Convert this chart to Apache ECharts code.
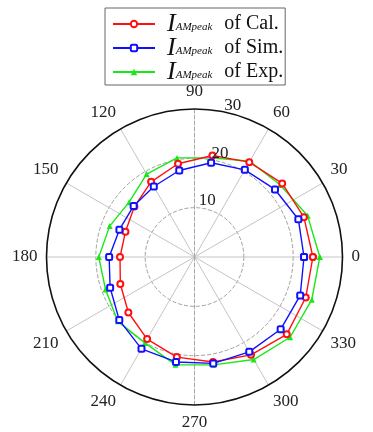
<!DOCTYPE html>
<html><head><meta charset="utf-8">
<script src="https://cdn.jsdelivr.net/npm/echarts@6/dist/echarts.min.js"></script>
<style>html,body{margin:0;padding:0;background:#fff}#c{width:373px;height:432px}</style>
</head><body><div id="c"></div>
<script>
// ---- data ----
const angles = [0,20,40,60,80,100,120,140,160,180,200,220,240,260,280,300,320,340];
const calValues = [24.0,23.6,23.2,22.2,20.9,19.2,17.6,15.9,14.9,15.1,16.0,17.5,19.2,20.6,21.6,22.9,24.4,24.0];
const simValues = [22.2,22.4,21.3,20.4,19.4,17.8,16.5,16.1,16.2,17.3,18.2,19.9,21.5,21.6,21.9,22.2,22.8,22.8];
const expValues = [25.4,24.4,22.7,22.4,20.4,20.4,19.4,17.3,18.3,19.4,19.2,20.3,20.1,22.2,22.2,24.0,25.3,25.3];
const angleTicks = [0,30,60,90,120,150,180,210,240,270,300,330];
const radiusTicks = [10,20,30];
const seriesNames = ['of Cal.','of Sim.','of Exp.'];

const FONT = 'Liberation Serif';
const center = [194.5, 257];
const R = 148;

function closed(vals){
  const d = angles.map((a,i)=>[vals[i], a]);
  d.push([vals[0], 360]);
  return d;
}
// spoke colours: hide the 90/270 spokes (drawn dashed separately)
const spokeColors = angleTicks.map(a => (a===90||a===270) ? 'rgba(0,0,0,0)' : '#c4c4c4');
const circleColors = [0].concat(radiusTicks).map(v => (v===0||v===30) ? 'rgba(0,0,0,0)' : '#a0a0a0');

const hiddenAngle = (idx, start) => ({
  polarIndex: idx, type:'value', min:0, max:360, interval:30, startAngle:start, clockwise:false,
  axisLine:{show:false}, axisTick:{show:false}, axisLabel:{show:false}, splitLine:{show:false}
});

const option = {
  animation:false,
  backgroundColor:'#fff',
  polar:[
    {center:center, radius:R},
    {center:center, radius:R},
    {center:center, radius:R},
    {center:center, radius:R}
  ],
  angleAxis:[
    {
      polarIndex:0, type:'value', min:0, max:360, interval:30, startAngle:0, clockwise:false,
      axisLine:{lineStyle:{color:'#111', width:1.6}},
      axisTick:{show:false},
      axisLabel:{fontFamily:FONT, fontSize:17, color:'#222', margin:9,
        formatter:v => (v===360 ? '' : String(v))},
      splitLine:{show:true, lineStyle:{color:spokeColors, width:1}}
    },
    hiddenAngle(1, 90),
    hiddenAngle(2, 270),
    hiddenAngle(3, 75)
  ],
  radiusAxis:[
    {
      polarIndex:0, type:'value', min:0, max:30, interval:10,
      axisLine:{show:false}, axisTick:{show:false}, axisLabel:{show:false},
      splitLine:{show:true, lineStyle:{color:circleColors, type:'dashed', width:1}}
    },
    {
      polarIndex:1, type:'value', min:0, max:30, interval:10,
      axisLine:{show:true, lineStyle:{color:'#a8a8a8', type:'dashed', width:1}},
      axisTick:{show:false}, axisLabel:{show:false}, splitLine:{show:false}
    },
    {
      polarIndex:2, type:'value', min:0, max:30, interval:10,
      axisLine:{show:true, lineStyle:{color:'#a8a8a8', type:'dashed', width:1}},
      axisTick:{show:false}, axisLabel:{show:false}, splitLine:{show:false}
    },
    {
      polarIndex:3, type:'value', min:0, max:30, interval:10, z:10,
      axisLine:{show:false}, axisTick:{show:false}, splitLine:{show:false},
      axisLabel:{show:true, fontFamily:FONT, fontSize:17, color:'#222', margin:0,
        align:'center', verticalAlign:'bottom',
        formatter:v => (radiusTicks.indexOf(v)>=0 ? String(v) : '')}
    }
  ],
  legend:{
    orient:'vertical', left:105, top:8,
    borderColor:'#666', borderWidth:1, padding:[3,2,0,7],
    itemGap:-2, itemWidth:42, itemHeight:8,
    data:seriesNames,
    formatter:name => '{i|I}{s|AMpeak}{t|' + name + '}',
    textStyle:{
      rich:{
        i:{fontFamily:FONT, fontStyle:'italic', fontSize:26, lineHeight:18, color:'#111', padding:[0,0,0,7]},
        s:{fontFamily:FONT, fontStyle:'italic', fontSize:11, lineHeight:10, verticalAlign:'bottom', color:'#111'},
        t:{fontFamily:FONT, fontSize:20, lineHeight:18, color:'#111', padding:[0,0,0,12]}
      }
    }
  },
  series:[
    {name:seriesNames[0], type:'line', coordinateSystem:'polar', polarIndex:0,
      data:closed(calValues), symbol:'emptyCircle', symbolSize:6,
      lineStyle:{color:'#ff1010', width:1.4}, itemStyle:{color:'#ff1010', borderWidth:1.3}, z:3},
    {name:seriesNames[1], type:'line', coordinateSystem:'polar', polarIndex:0,
      data:closed(simValues), symbol:'emptyRoundRect', symbolSize:6,
      lineStyle:{color:'#1010ff', width:1.4}, itemStyle:{color:'#1010ff', borderWidth:1.3}, z:4},
    {name:seriesNames[2], type:'line', coordinateSystem:'polar', polarIndex:0,
      data:closed(expValues), symbol:'triangle', symbolSize:6,
      lineStyle:{color:'#18e818', width:1.4}, itemStyle:{color:'#18e818'}, z:2}
  ]
};
const chart = echarts.init(document.getElementById('c'), null, {renderer:'canvas'});
chart.setOption(option);
</script>
</body></html>
